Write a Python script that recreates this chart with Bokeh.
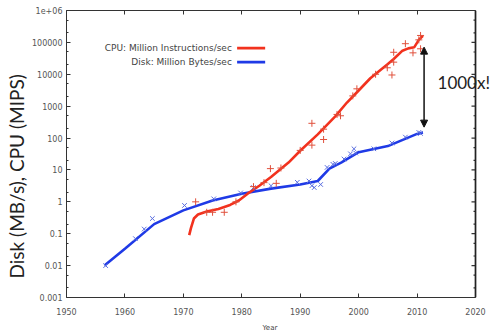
from bokeh.plotting import figure
from bokeh.models import (Range1d, LinearAxis, FixedTicker, Label, Arrow, Title, Span,
                          NormalHead, CustomJSTickFormatter)
from bokeh.embed import file_html
from bokeh.resources import INLINE

# ---------------- data ----------------
cpu_years = [1972.1, 1974.0, 1975.0, 1977.0, 1979.0, 1982.0, 1983.8, 1984.9, 1985.9, 1986.7,
             1990.0, 1992.0, 1992.0, 1994.0, 1994.0, 1996.3, 1996.9, 1999.0, 1999.7,
             2002.9, 2004.9, 2005.7, 2006.0, 2006.0, 2008.0, 2009.3, 2010.3, 2010.6, 2010.6]
cpu_values = [1.0, 0.47, 0.47, 0.47, 1.0, 3.0, 4.0, 11, 3.8, 11.5,
              41, 290, 60, 90, 190, 550, 500, 2100, 3500,
              10000, 16000, 9500, 24000, 49000, 91000, 47000, 120000, 165000, 63000]

disk_years = [1956.7, 1961.8, 1963.3, 1964.7, 1970.2, 1975.2, 1979.8, 1982.0, 1985.0, 1989.5,
              1991.5, 1992.0, 1992.4, 1993.5, 1994.6, 1995.6, 1996.0, 1997.5, 1998.6, 1999.2,
              1999.5, 2002.6, 2005.7, 2008.0, 2010.3, 2010.6]
disk_values = [0.01, 0.07, 0.14, 0.3, 0.77, 1.24, 1.9, 2.8, 3.2, 4.1,
               4.5, 3.2, 2.8, 3.5, 12, 15, 16, 22, 32, 46,
               34, 46, 70, 107, 150, 140]

cpu_fit_years = [1971.0, 1971.3, 1971.8, 1972.5, 1974.0, 1976.0, 1978.0, 1979.5, 1981.0, 1983.0,
                 1985.0, 1988.0, 1990.0, 1993.0, 1996.0, 1998.0, 2000.0, 2002.0, 2004.0, 2005.0,
                 2006.0, 2007.5, 2008.5, 2009.5, 2010.3, 2011.0]
cpu_fit_values = [0.09, 0.15, 0.3, 0.4, 0.5, 0.6, 0.8, 1.1, 1.8, 3.2,
                  6, 17, 40, 130, 480, 1300, 3100, 7500, 15000, 21000,
                  30000, 55000, 65000, 70000, 120000, 160000]

disk_fit_years = [1956.5, 1960.0, 1965.0, 1970.0, 1975.0, 1980.0, 1985.0, 1990.0, 1993.0, 1995.0,
                  1997.0, 2000.0, 2005.0, 2010.0, 2011.0]
disk_fit_values = [0.01, 0.034, 0.2, 0.54, 1.1, 1.8, 2.6, 3.5, 4.5, 11,
                   17, 36, 56, 135, 150]

x_ticks = [1950, 1960, 1970, 1980, 1990, 2000, 2010, 2020]
y_ticks = [0.001, 0.01, 0.1, 1, 10, 100, 1000, 10000, 100000, 1000000]
y_tick_labels = ["0.001", "0.01", "0.1", "1", "10", "100", "1000", "10000", "100000", "1e+06"]

legend_labels = ["CPU: Million Instructions/sec", "Disk: Million Bytes/sec"]

# ---------------- layout / styles ----------------
RED = "#f2321e"
RED_M = "#e0503c"
BLUE = "#1f3ae6"
BLUE_M = "#5a6ee0"
AX = "#333333"
TICK_FONT = "DejaVu Sans"
W, H = 491, 336
FRAME_LEFT, FRAME_RIGHT, FRAME_TOP, FRAME_BOTTOM = 66, 475, 10, 297
X0, X1 = x_ticks[0], x_ticks[-1]
px_per_year = (FRAME_RIGHT - FRAME_LEFT) / (X1 - X0)
# the drawing area runs to the canvas edge so that "1000x!" may stick out of the box
X_END = X0 + (W - FRAME_LEFT) / px_per_year

y_minor = [t * m for t in y_ticks[:-1] for m in (2, 5)]

p = figure(width=W, height=H, output_backend="svg", toolbar_location=None,
           x_range=Range1d(X0, X_END), y_range=Range1d(y_ticks[0], y_ticks[-1]),
           y_axis_type="log",
           min_border_left=FRAME_LEFT, min_border_right=0, min_border_top=FRAME_TOP,
           min_border_bottom=H - FRAME_BOTTOM)
p.grid.visible = False
p.outline_line_color = None
p.background_fill_color = "white"
p.border_fill_color = "white"

blank = CustomJSTickFormatter(code="return ''")

# bottom axis
xa = p.xaxis[0]
xa.ticker = FixedTicker(ticks=x_ticks)
xa.bounds = (X0, X1)
xa.major_tick_in = 4
xa.major_tick_out = 0
xa.minor_tick_line_color = None
xa.axis_line_color = AX
xa.major_tick_line_color = AX
xa.major_label_text_font = TICK_FONT
xa.major_label_text_font_size = "8px"
xa.major_label_text_color = "#555555"
xa.major_label_standoff = 10

# left axis
ya = p.yaxis[0]
ya.ticker = FixedTicker(ticks=y_ticks, minor_ticks=y_minor)
ya.major_label_overrides = {t: l for t, l in zip(y_ticks, y_tick_labels)}
ya.major_tick_in = 4
ya.major_tick_out = 0
ya.minor_tick_in = 2
ya.minor_tick_out = 0
ya.axis_line_color = AX
ya.major_tick_line_color = AX
ya.minor_tick_line_color = AX
ya.major_label_text_font = TICK_FONT
ya.major_label_text_font_size = "8px"
ya.major_label_text_color = "#555555"
ya.major_label_standoff = 4

# top axis (ticks only)
ta = LinearAxis(ticker=FixedTicker(ticks=x_ticks), formatter=blank, bounds=(X0, X1),
                major_tick_in=4, major_tick_out=0, minor_tick_line_color=None,
                axis_line_color=AX, major_tick_line_color=AX,
                major_label_standoff=0, major_label_text_font_size="1px")
p.add_layout(ta, "above")

# right border of the box with inward ticks
p.add_layout(Span(location=X1, dimension="height", line_color="#222222", line_width=1.4))
p.line([X1, X1], [y_ticks[0], y_ticks[-1]], line_color="#222222", line_width=1.4)
p.segment(x0=[X1] * len(y_ticks), y0=y_ticks, x1=[X1 - 4 / px_per_year] * len(y_ticks),
          y1=y_ticks, line_color=AX, line_width=1.2)
p.segment(x0=[X1] * len(y_minor), y0=y_minor, x1=[X1 - 2 / px_per_year] * len(y_minor),
          y1=y_minor, line_color=AX, line_width=1.2)

# titles
p.add_layout(Title(text="Disk (MB/s), CPU (MIPS)", align="left", offset=19, standoff=2,
                   text_font="Lato", text_font_size="19px", text_font_style="normal",
                   text_color="#222222"), "left")
p.add_layout(Title(text="Year", align="left", offset=196, standoff=9,
                   text_font=TICK_FONT, text_font_size="7px", text_font_style="normal",
                   text_color="#444444"), "below")

# data
p.line(disk_fit_years, disk_fit_values, line_color=BLUE, line_width=2.6)
p.line(cpu_fit_years, cpu_fit_values, line_color=RED, line_width=2.6)
p.scatter(disk_years, disk_values, marker="x", size=6.5, line_color=BLUE_M, line_width=1)
p.scatter(cpu_years, cpu_values, marker="cross", size=7, line_color=RED_M, line_width=1)

# legend (label then line sample, right of label)
leg_x_text = 1978.3
leg_x0, leg_x1 = 1979.2, 1984.0
leg_y = [66000, 24000]
for lab, yy, col in zip(legend_labels, leg_y, [RED, BLUE]):
    p.add_layout(Label(x=leg_x_text, y=yy, text=lab, text_align="right", text_baseline="middle",
                       text_font=TICK_FONT, text_font_size="9px", text_color="#444444"))
    p.add_layout(Arrow(x_start=leg_x0, y_start=yy, x_end=leg_x1, y_end=yy, start=None, end=None,
                       line_color=col, line_width=2.6))

# 1000x arrow
arrow_x = 2011.2
arrow_low, arrow_high = 220, 71000
p.add_layout(Arrow(x_start=arrow_x, y_start=arrow_low, x_end=arrow_x, y_end=arrow_high,
                   line_color="#111111", line_width=1.5,
                   start=NormalHead(size=7, fill_color="#111111", line_color="#111111"),
                   end=NormalHead(size=7, fill_color="#111111", line_color="#111111")))
p.add_layout(Label(x=2013.5, y=5500, text="1000x!", text_align="left", text_baseline="middle",
                   text_font="Lato", text_font_size="17px", text_color="#222222"))

open("out.html", "w").write(file_html(p, INLINE))
